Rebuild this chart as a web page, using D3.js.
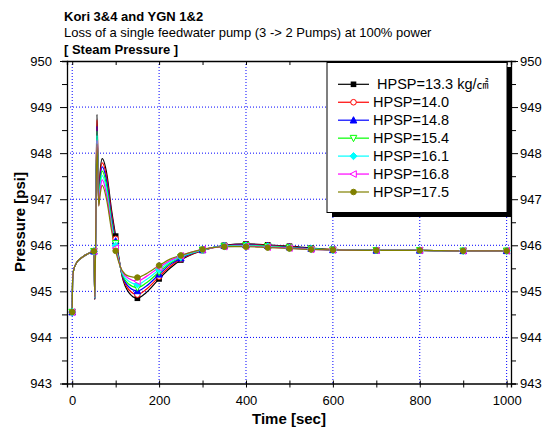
<!DOCTYPE html>
<html>
<head>
<meta charset="utf-8">
<script src="https://cdn.jsdelivr.net/npm/d3@7"></script>
<style>
  body { margin: 0; background: #fff; }
  svg { font-family: "Liberation Sans", Arial, sans-serif; }
</style>
</head>
<body>
<svg id="chart" width="544" height="436"></svg>
<script>
// time points [sec]
const times = [0, 1, 3, 10, 20, 35, 50, 52, 57, 61, 64, 69, 80, 90, 100, 115, 130, 150, 170, 200, 225, 250, 300, 350, 400, 450, 500, 550, 600, 700, 800, 900, 1000];

// steam pressure [psi] for each HPSP case
const hpsp133 = [944.55, 945.25, 945.45, 945.62, 945.72, 945.81, 945.87, 944.82, 948.84, 946.95, 947.55, 947.88, 947.53, 946.80, 946.20, 945.32, 944.98, 944.85, 944.97, 945.27, 945.50, 945.68, 945.89, 946.00, 946.03, 946.01, 945.98, 945.94, 945.91, 945.89, 945.89, 945.88, 945.88];
const hpsp140 = [944.55, 945.25, 945.45, 945.62, 945.72, 945.81, 945.87, 944.83, 948.72, 946.93, 947.48, 947.79, 947.44, 946.72, 946.14, 945.34, 945.04, 944.93, 945.04, 945.32, 945.54, 945.70, 945.89, 945.99, 946.02, 946.00, 945.97, 945.93, 945.91, 945.89, 945.89, 945.88, 945.88];
const hpsp148 = [944.55, 945.25, 945.45, 945.62, 945.72, 945.81, 945.87, 944.84, 948.58, 946.91, 947.40, 947.70, 947.35, 946.64, 946.09, 945.36, 945.10, 945.01, 945.11, 945.37, 945.58, 945.72, 945.90, 945.99, 946.01, 945.99, 945.96, 945.93, 945.90, 945.89, 945.89, 945.88, 945.88];
const hpsp154 = [944.55, 945.25, 945.45, 945.62, 945.72, 945.81, 945.87, 944.85, 948.48, 946.90, 947.32, 947.61, 947.25, 946.56, 946.04, 945.38, 945.16, 945.08, 945.18, 945.42, 945.61, 945.74, 945.90, 945.98, 946.00, 945.98, 945.95, 945.92, 945.90, 945.89, 945.89, 945.88, 945.88];
const hpsp161 = [944.55, 945.25, 945.45, 945.62, 945.72, 945.81, 945.87, 944.86, 948.38, 946.88, 947.24, 947.51, 947.15, 946.48, 945.99, 945.40, 945.22, 945.15, 945.25, 945.47, 945.64, 945.75, 945.90, 945.98, 945.99, 945.97, 945.94, 945.92, 945.90, 945.89, 945.89, 945.88, 945.88];
const hpsp168 = [944.55, 945.25, 945.45, 945.62, 945.72, 945.81, 945.87, 944.87, 948.28, 946.86, 947.16, 947.42, 947.05, 946.42, 945.94, 945.43, 945.28, 945.22, 945.32, 945.52, 945.67, 945.77, 945.91, 945.97, 945.98, 945.96, 945.94, 945.91, 945.90, 945.89, 945.89, 945.88, 945.88];
const hpsp175 = [944.55, 945.25, 945.45, 945.62, 945.72, 945.81, 945.87, 944.88, 948.20, 946.85, 947.08, 947.30, 946.95, 946.35, 945.88, 945.45, 945.33, 945.30, 945.38, 945.56, 945.70, 945.78, 945.91, 945.97, 945.97, 945.95, 945.93, 945.91, 945.90, 945.89, 945.89, 945.88, 945.88];

const labels = ["HPSP=13.3 kg/\u33A0", "HPSP=14.0", "HPSP=14.8", "HPSP=15.4", "HPSP=16.1", "HPSP=16.8", "HPSP=17.5"];
const colors = ["#000000", "#ff0000", "#0000ff", "#00ff00", "#00ffff", "#ff00ff", "#808000"];
const symbols = ["square", "circleOpen", "triUp", "triDownOpen", "diamond", "triLeftOpen", "circle"];
const allValues = [hpsp133, hpsp140, hpsp148, hpsp154, hpsp161, hpsp168, hpsp175];

const xTicks = [0, 200, 400, 600, 800, 1000];
const yTicks = [943, 944, 945, 946, 947, 948, 949, 950];

const margin = { top: 61, left: 67, right: 33, bottom: 52 };
const width = 544 - margin.left - margin.right;
const height = 436 - margin.top - margin.bottom - 0.5;

const svg = d3.select("#chart");
const g = svg.append("g").attr("transform", "translate(" + margin.left + "," + margin.top + ")");

const x = d3.scaleLinear().domain([-12, 1010]).range([0, width]);
const y = d3.scaleLinear().domain([943, 950]).range([height, 0]);
const fmt = d3.format("d");

// titles
const titles = [
  { t: "Kori 3&4 and YGN 1&2", w: "bold", yy: 20.5 },
  { t: "Loss of a single feedwater pump (3 -> 2 Pumps) at 100% power", w: "normal", yy: 37 },
  { t: "[ Steam Pressure ]", w: "bold", yy: 53.5 }
];
svg.selectAll(".title").data(titles).enter().append("text")
  .attr("x", 64).attr("y", d => d.yy)
  .attr("font-size", 13).attr("font-weight", d => d.w)
  .text(d => d.t);

// grid
g.append("g").selectAll("line").data(xTicks).enter().append("line")
  .attr("x1", d => x(d)).attr("x2", d => x(d)).attr("y1", 0).attr("y2", height)
  .attr("stroke", "#0000ff").attr("stroke-dasharray", "1,2");
g.append("g").selectAll("line").data(yTicks.filter(v => v > 943 && v < 950)).enter().append("line")
  .attr("y1", d => y(d)).attr("y2", d => y(d)).attr("x1", 0).attr("x2", width)
  .attr("stroke", "#0000ff").attr("stroke-dasharray", "1,2");

// axes
const minorX = d3.range(0, 1001, 100);
const minorY = d3.range(943, 950.01, 0.5);

const bottomAxis = g.append("g").attr("transform", "translate(0," + height + ")")
  .call(d3.axisBottom(x).tickValues(minorX).tickSize(4).tickFormat(""));
bottomAxis.selectAll(".tick line").attr("y1", -3);
g.append("g").attr("transform", "translate(0," + height + ")")
  .call(d3.axisBottom(x).tickValues(xTicks).tickSize(0).tickPadding(12).tickFormat(fmt))
  .call(a => a.select(".domain").remove());

g.append("g").call(d3.axisTop(x).tickValues(minorX).tickSize(-4).tickFormat(""));

g.append("g").call(d3.axisLeft(y).tickValues(minorY).tickSize(5).tickFormat(""))
  .call(a => a.selectAll(".tick line").filter(d => d % 1 === 0).attr("x2", -7));
g.append("g").call(d3.axisLeft(y).tickValues(yTicks).tickSize(0).tickPadding(15).tickFormat(fmt))
  .call(a => a.select(".domain").remove());

g.append("g").attr("transform", "translate(" + width + ",0)")
  .call(d3.axisRight(y).tickValues(minorY).tickSize(5).tickFormat(""))
  .call(a => a.selectAll(".tick line").filter(d => d % 1 === 0).attr("x2", 7));
g.append("g").attr("transform", "translate(" + width + ",0)")
  .call(d3.axisRight(y).tickValues(yTicks).tickSize(0).tickPadding(9).tickFormat(fmt))
  .call(a => a.select(".domain").remove());

g.selectAll(".domain").attr("stroke", "#000").attr("stroke-width", 1.3);
g.selectAll(".tick text").attr("font-size", 13).attr("fill", "#000")
  .attr("font-family", "'Liberation Sans', Arial, sans-serif");

// axis titles
svg.append("text").attr("x", 289).attr("y", 424).attr("text-anchor", "middle")
  .attr("font-size", 15).attr("font-weight", "bold").text("Time [sec]");
svg.append("text").attr("transform", "translate(25,222) rotate(-90)").attr("text-anchor", "middle")
  .attr("font-size", 15).attr("font-weight", "bold").text("Pressure [psi]");

// markers
function drawMarker(sel, type, color) {
  const s = 2.8;
  if (type === "square") {
    sel.append("rect").attr("x", -s).attr("y", -s).attr("width", 2 * s).attr("height", 2 * s).attr("fill", color);
  } else if (type === "circle" || type === "circleOpen") {
    sel.append("circle").attr("r", s).attr("fill", type === "circle" ? color : "#fff").attr("stroke", color);
  } else {
    let pts;
    if (type === "triUp") pts = [[0, -s - 0.7], [s + 0.5, s], [-s - 0.5, s]];
    if (type === "triDownOpen") pts = [[0, s + 0.7], [s + 0.5, -s], [-s - 0.5, -s]];
    if (type === "triLeftOpen") pts = [[-s - 0.7, 0], [s, -s - 0.5], [s, s + 0.5]];
    if (type === "diamond") pts = [[0, -s - 0.8], [s + 0.8, 0], [0, s + 0.8], [-s - 0.8, 0]];
    const filled = type === "triUp" || type === "diamond";
    sel.append("polygon").attr("points", pts.map(p => p.join(",")).join(" "))
      .attr("fill", filled ? color : "#fff").attr("stroke", color);
  }
}

// curves
g.append("clipPath").attr("id", "clip").append("rect").attr("width", width).attr("height", height);
const line = d3.line().x(d => x(d.t)).y(d => y(d.v)).curve(d3.curveMonotoneX);
const plot = g.append("g").attr("clip-path", "url(#clip)");

allValues.forEach((vals, i) => {
  const pts = times.map((t, k) => ({ t: t, v: vals[k] }));
  plot.append("path").datum(pts).attr("d", line)
    .attr("fill", "none").attr("stroke", colors[i]).attr("stroke-width", 1.2);
  const mk = pts.filter(p => p.t % 50 === 0 && (p.t <= 600 || p.t % 100 === 0));
  mk.forEach(p => {
    const m = g.append("g").attr("transform", "translate(" + x(p.t) + "," + y(p.v) + ")");
    drawMarker(m, symbols[i], colors[i]);
  });
});

// legend
const lg = svg.append("g");
lg.append("rect").attr("x", 332).attr("y", 67).attr("width", 180).attr("height", 150).attr("fill", "#000");
lg.append("rect").attr("x", 327).attr("y", 62.5).attr("width", 180).attr("height", 150)
  .attr("fill", "#fff").attr("stroke", "#000").attr("stroke-width", 1);
labels.forEach((lab, i) => {
  const yy = 84.3 + i * 17.95;
  lg.append("line").attr("x1", 338).attr("x2", 369).attr("y1", yy).attr("y2", yy)
    .attr("stroke", colors[i]).attr("stroke-width", 1.2);
  const m = lg.append("g").attr("transform", "translate(353.5," + yy + ")");
  drawMarker(m, symbols[i], colors[i]);
  const tx = lg.append("text").attr("x", i === 0 ? 377 : 373).attr("y", yy + 5)
    .attr("font-size", 14.5);
  if (i === 0) {
    tx.text("HPSP=13.3 kg/");
    tx.append("tspan").attr("font-family", "'Noto Sans CJK KR', sans-serif").attr("font-size", 12).text("\u33A0");
  } else {
    tx.text(lab);
  }
});
</script>
</body>
</html>
